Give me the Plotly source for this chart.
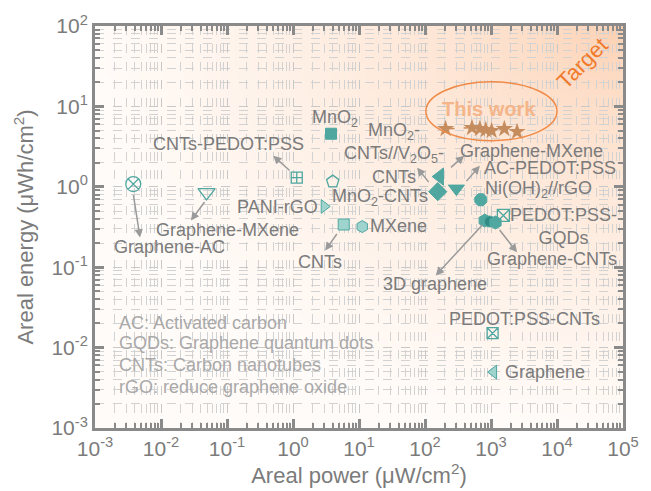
import math, zlib, struct, base64
import plotly.graph_objects as go

# ---------------- data ----------------
materials = ["Graphene-AC", "Graphene-MXene (a)", "CNTs-PEDOT:PSS", "MnO2-CNTs", "PANI-rGO",
             "MnO2", "CNTs", "MXene", "MnO2-CNTs//V2O5-CNTs", "Graphene-MXene (b)",
             "AC-PEDOT:PSS", "Ni(OH)2//rGO", "3D graphene", "3D graphene (b)", "Graphene-CNTs",
             "PEDOT:PSS-GQDs", "PEDOT:PSS-CNTs", "Graphene"]
power = [0.0038, 0.049, 1.14, 4.0, 2.97,
         3.77, 5.87, 11.2, 156, 167,
         299, 701, 804, 960, 1169,
         1538, 1057, 1094]
energy = [1.08, 0.85, 1.30, 1.16, 0.57,
          4.57, 0.34, 0.32, 0.87, 1.34,
          0.95, 0.69, 0.38, 0.37, 0.36,
          0.44, 0.0151, 0.00496]

work_power = [205, 515, 678, 832, 1021, 1592, 2483]
work_energy = [5.27, 5.42, 5.27, 5.12, 4.98, 5.27, 4.84]

x_tickvals = [1e-3, 1e-2, 1e-1, 1e0, 1e1, 1e2, 1e3, 1e4, 1e5]
x_ticktext = ["10<sup>-3</sup>", "10<sup>-2</sup>", "10<sup>-1</sup>", "10<sup>0</sup>", "10<sup>1</sup>",
              "10<sup>2</sup>", "10<sup>3</sup>", "10<sup>4</sup>", "10<sup>5</sup>"]
y_tickvals = [1e-3, 1e-2, 1e-1, 1e0, 1e1, 1e2]
y_ticktext = ["10<sup>-3</sup>", "10<sup>-2</sup>", "10<sup>-1</sup>", "10<sup>0</sup>", "10<sup>1</sup>",
              "10<sup>2</sup>"]

# labels: (text, power, energy, xanchor)
labels = [
    ("MnO<sub>2</sub>", 4.3, 7.0, "center"),
    ("CNTs-PEDOT:PSS", 0.104, 3.44, "center"),
    ("PANI-rGO", 0.575, 0.568, "center"),
    ("MnO<sub>2</sub>-CNTs", 20.8, 0.735, "center"),
    ("MXene", 39.7, 0.330, "center"),
    ("CNTs", 2.58, 0.115, "center"),
    ("Graphene-MXene", 0.1007, 0.294, "center"),
    ("Graphene-AC", 0.01343, 0.176, "center"),
    ("MnO<sub>2</sub>-<br>CNTs//V<sub>2</sub>O<sub>5</sub>-<br>CNTs", 33.5, 2.58, "center"),
    ("Graphene-MXene", 4140, 2.81, "center"),
    ("AC-PEDOT:PSS", 7930, 1.73, "center"),
    ("Ni(OH)<sub>2</sub>//rGO", 5260, 0.923, "center"),
    ("PEDOT:PSS-<br>GQDs", 12360, 0.321, "center"),
    ("Graphene-CNTs", 8490, 0.125, "center"),
    ("3D graphene", 140.6, 0.0612, "center"),
    ("PEDOT:PSS-CNTs", 3260, 0.0225, "center"),
    ("Graphene", 6680, 0.00496, "center"),
]
# arrows: (tail power, tail energy, head power, head energy)
arrows = [
    (0.00379, 0.824, 0.00481, 0.234),
    (0.0475, 0.675, 0.0284, 0.381),
    (0.927, 1.545, 0.501, 2.44),
    (4.79, 0.270, 3.07, 0.161),
    (118.6, 1.096, 76.0, 1.73),
    (235, 1.68, 392, 2.44),
    (406, 1.127, 678, 1.83),
    (1297, 0.303, 2483, 0.153),
    (776, 0.349, 145.5, 0.0791),
]
notes = ["AC: Activated carbon", "GQDs: Graphene quantum dots",
         "CNTs: Carbon nanotubes", "rGO: reduce graphene oxide"]
notes_energy = [0.0201, 0.01135, 0.00605, 0.00323]
notes_power = 0.00212

# ---------------- styles ----------------
TEAL = "#4fa7a0"
LIGHT = "#9ed3ce"
DARK = "#2e8c85"
symbols = ["circle-x-open", "triangle-down-open", "square-cross-open", "pentagon-open", "triangle-right",
           "square", "square", "hexagon", "diamond", "triangle-left",
           "triangle-down", "octagon", "hexagon", "circle", "hexagon",
           "square-x-open", "square-x-open", "triangle-left"]
sizes = [15, 15, 11, 13, 12, 11, 11, 12, 14, 15, 14, 13, 13, 11, 13, 12, 11, 12]
fills = [TEAL, TEAL, TEAL, TEAL, LIGHT, TEAL, LIGHT, LIGHT, TEAL, TEAL,
         TEAL, TEAL, TEAL, DARK, TEAL, TEAL, TEAL, LIGHT]
FONT = "Liberation Sans, Arial, sans-serif"
GRAY = "#7b7b7b"
AXC = "#8a8a8a"
GRID = "#c8c8c8"
GRID_MINOR = "#d2d2d2"

# ---------------- gradient background image ----------------
W, H = 120, 90
peach = (252, 206, 174)
white = (255, 251, 248)
rows = b""
for j in range(H):
    v = j / (H - 1)
    row = b"\x00"
    for i in range(W):
        u = i / (W - 1)
        d = min(1.0, math.sqrt((1 - u) ** 2 + v ** 2))
        f = d ** 0.6
        row += bytes(int(round(peach[k] + (white[k] - peach[k]) * f)) for k in range(3))
    rows += row

def chunk(tag, data):
    c = struct.pack(">I", len(data)) + tag + data
    return c + struct.pack(">I", zlib.crc32(tag + data) & 0xffffffff)

png = b"\x89PNG\r\n\x1a\n" + chunk(b"IHDR", struct.pack(">IIBBBBB", W, H, 8, 2, 0, 0, 0)) \
    + chunk(b"IDAT", zlib.compress(rows, 9)) + chunk(b"IEND", b"")
img_src = "data:image/png;base64," + base64.b64encode(png).decode()

# ---------------- figure ----------------
fig = go.Figure()

for i, name in enumerate(materials):
    sym = symbols[i]
    is_open = sym.endswith("-open")
    fig.add_trace(go.Scatter(
        x=[power[i]], y=[energy[i]], mode="markers", name=name, showlegend=False,
        marker=dict(symbol=sym, size=sizes[i], color=TEAL if is_open else fills[i],
                    line=dict(color=TEAL, width=1.3 if is_open else 1))))

fig.add_trace(go.Scatter(
    x=work_power, y=work_energy, mode="lines+markers", name="This work", showlegend=False,
    line=dict(color="#c58c5e", width=1.5, dash="dash"),
    marker=dict(symbol="star", size=13, color="#c58c5e", line=dict(width=0))))

annotations = []
for txt, px, py, xa in labels:
    annotations.append(dict(x=math.log10(px), y=math.log10(py), xref="x", yref="y", text=txt,
                            showarrow=False, xanchor=xa, yanchor="middle",
                            font=dict(family=FONT, size=18, color=GRAY)))
for tx, ty, hx, hy in arrows:
    annotations.append(dict(x=math.log10(hx), y=math.log10(hy), ax=math.log10(tx), ay=math.log10(ty),
                            xref="x", yref="y", axref="x", ayref="y", text="", showarrow=True,
                            arrowhead=2, arrowsize=1.1, arrowwidth=1.5, arrowcolor="#9a9a9a",
                            standoff=0, startstandoff=0))
for t, e in zip(notes, notes_energy):
    annotations.append(dict(x=math.log10(notes_power), y=math.log10(e), xref="x", yref="y", text=t,
                            showarrow=False, xanchor="left", yanchor="middle",
                            font=dict(family=FONT, size=18, color="#a9a9a9")))
annotations.append(dict(x=math.log10(920), y=math.log10(9.33), xref="x", yref="y", text="<b>This work</b>",
                        showarrow=False, font=dict(family=FONT, size=20, color="#f4b58a")))
annotations.append(dict(x=math.log10(24000), y=math.log10(34), xref="x", yref="y", text="Target",
                        showarrow=False, textangle=-45, font=dict(family=FONT, size=22, color="#f07a2c")))

fig.add_shape(type="circle", xref="x", yref="y", x0=103, x1=10000, y0=3.74, y1=20.2,
              line=dict(color="#f08a48", width=1.5))

axis_common = dict(
    type="log", showline=True, linewidth=3, linecolor=AXC, mirror="allticks",
    ticks="inside", ticklen=9, tickwidth=2.5, tickcolor=AXC,
    showgrid=True, gridcolor=GRID, griddash="dash", gridwidth=1,
    minor=dict(ticks="inside", ticklen=5, tickwidth=1.5, tickcolor=AXC, dtick="D1",
               showgrid=True, gridcolor=GRID_MINOR, griddash="dash", gridwidth=1),
    tickfont=dict(family=FONT, size=21, color=GRAY), zeroline=False,
)
fig.update_xaxes(**axis_common, range=[-3, 5], tickmode="array", tickvals=x_tickvals, ticktext=x_ticktext,
                 title=dict(text="Areal power (μW/cm<sup>2</sup>)", standoff=2,
                            font=dict(family=FONT, size=22, color=GRAY)))
fig.update_yaxes(**axis_common, range=[-3, 2], tickmode="array", tickvals=y_tickvals, ticktext=y_ticktext,
                 title=dict(text="Areal energy (μWh/cm<sup>2</sup>)", standoff=12,
                            font=dict(family=FONT, size=22, color=GRAY)))

fig.update_layout(
    width=651, height=491, margin=dict(l=95, r=17, t=25, b=63),
    paper_bgcolor="white", plot_bgcolor="rgba(0,0,0,0)",
    annotations=annotations,
    images=[dict(source=img_src, xref="paper", yref="paper", x=0, y=1, sizex=1, sizey=1,
                 xanchor="left", yanchor="top", sizing="stretch", layer="below")],
    font=dict(family=FONT),
)

fig.write_html("out.html")
